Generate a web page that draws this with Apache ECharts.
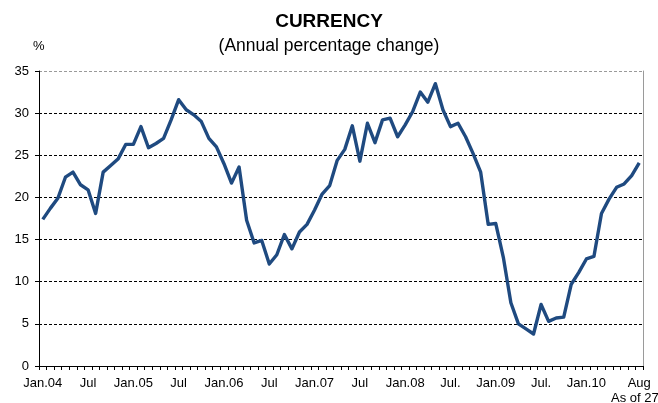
<!DOCTYPE html>
<html>
<head>
<meta charset="utf-8">
<script src="https://cdn.jsdelivr.net/npm/echarts@6/dist/echarts.min.js"></script>
<style>
  html, body { margin: 0; padding: 0; background: #fff; }
  #chart { width: 658px; height: 403px; }
</style>
</head>
<body>
<div id="chart"></div>
<script>
// ------------------------------------------------------------------------
// Data: monthly, Jan 2004 - Aug 2010 (annual % change)
// ------------------------------------------------------------------------
var years = ['04', '05', '06', '07', '08', '09', '10'];
var monthNames = ['Jan', 'Feb', 'Mar', 'Apr', 'May', 'Jun', 'Jul', 'Aug', 'Sep', 'Oct', 'Nov', 'Dec'];

// Jan.04 ... Aug.10 (80 months)
var months = [];
years.forEach(function (y) {
    monthNames.forEach(function (m) { months.push(m + '.' + y); });
});
months = months.slice(0, 80);

var currency = [
    17.4, 18.7, 19.9, 22.4, 23.0, 21.5, 20.9, 18.1, 23.0, 23.8, 24.6, 26.3,   // 2004
    26.3, 28.4, 25.9, 26.4, 27.0, 29.2, 31.6, 30.4, 29.8, 29.0, 27.0, 26.0,   // 2005
    24.0, 21.7, 23.6, 17.3, 14.6, 14.9, 12.1, 13.2, 15.6, 13.9, 15.9, 16.8,   // 2006
    18.5, 20.4, 21.4, 24.4, 25.7, 28.5, 24.3, 28.8, 26.5, 29.2, 29.4, 27.2,   // 2007
    28.6, 30.2, 32.5, 31.3, 33.5, 30.4, 28.4, 28.8, 27.2, 25.2, 23.0, 16.8,   // 2008
    16.9, 12.9, 7.5, 5.0, 4.4, 3.8, 7.3, 5.3, 5.7, 5.8, 9.7, 11.1,            // 2009
    12.7, 13.0, 18.1, 19.8, 21.2, 21.6, 22.6, 24.1                            // 2010
];

// tick labels shown on the x axis
var tickLabels = {
    'Jan.04': 'Jan.04', 'Jul.04': 'Jul',
    'Jan.05': 'Jan.05', 'Jul.05': 'Jul',
    'Jan.06': 'Jan.06', 'Jul.06': 'Jul',
    'Jan.07': 'Jan.07', 'Jul.07': 'Jul',
    'Jan.08': 'Jan.08', 'Jul.08': 'Jul.',
    'Jan.09': 'Jan.09', 'Jul.09': 'Jul.',
    'Jan.10': 'Jan.10', 'Aug.10': 'Aug'
};

var yTicks = [0, 5, 10, 15, 20, 25, 30, 35];

// ------------------------------------------------------------------------
// Chart
// ------------------------------------------------------------------------
var FONT = '"Liberation Sans", Arial, sans-serif';
var chart = echarts.init(document.getElementById('chart'), null, { renderer: 'canvas' });

// top gridline is grey, the rest black
var gridColors = yTicks.map(function (v) { return v === 35 ? '#9a9a9a' : '#000'; });

var option = {
    animation: false,
    backgroundColor: '#fff',
    title: [
        {
            text: 'CURRENCY',
            left: 'center', top: 7,
            textStyle: { fontFamily: FONT, fontSize: 19, fontWeight: 'bold', color: '#000' }
        },
        {
            text: '(Annual percentage change)',
            left: 'center', top: 32,
            textStyle: { fontFamily: FONT, fontSize: 17.5, fontWeight: 'normal', color: '#000' }
        }
    ],
    graphic: [
        { type: 'text', left: 33, top: 40, style: { text: '%', font: '13px ' + FONT, fill: '#000' } },
        { type: 'text', left: 611, top: 392, style: { text: 'As of 27 Aug', font: '13px ' + FONT, fill: '#000' } }
    ],
    grid: { left: 39, right: 15, top: 71, bottom: 37, containLabel: false },
    xAxis: {
        type: 'category',
        data: months,
        boundaryGap: true,
        axisLine: { lineStyle: { color: '#000', width: 1 } },
        axisTick: { show: true, interval: 0, length: 4, lineStyle: { color: '#000' } },
        axisLabel: {
            interval: function (idx, val) { return tickLabels.hasOwnProperty(val); },
            formatter: function (val) { return tickLabels[val] || ''; },
            fontFamily: FONT, fontSize: 13, color: '#000', margin: 11
        },
        splitLine: { show: false }
    },
    yAxis: [
        {
            type: 'value',
            min: 0, max: 35, interval: 5,
            axisLine: { show: true, lineStyle: { color: '#000', width: 1 } },
            axisTick: { show: true, length: 4, lineStyle: { color: '#000' } },
            axisLabel: { fontFamily: FONT, fontSize: 13, color: '#000', margin: 10 },
            splitLine: { show: true, lineStyle: { color: gridColors, type: [3, 2], width: 1 } }
        },
        {
            type: 'value',
            position: 'right',
            min: 0, max: 35, interval: 5,
            axisLine: { show: true, lineStyle: { color: '#9a9a9a', width: 1 } },
            axisTick: { show: false },
            axisLabel: { show: false },
            splitLine: { show: false }
        }
    ],
    series: [{
        type: 'line',
        data: currency,
        showSymbol: false,
        symbol: 'none',
        smooth: false,
        lineStyle: { color: '#1F4A80', width: 3.4, join: 'round' }
    }]
};
chart.setOption(option);
</script>
</body>
</html>
